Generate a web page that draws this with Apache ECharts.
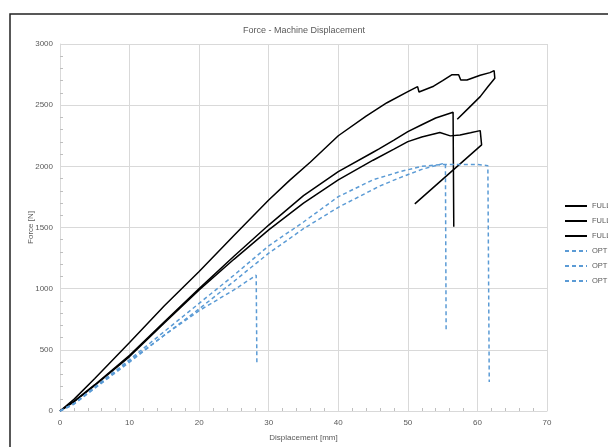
<!DOCTYPE html>
<html>
<head>
<meta charset="utf-8">
<script src="https://cdn.jsdelivr.net/npm/echarts@6/dist/echarts.min.js"></script>
<style>
  html, body { margin: 0; padding: 0; background: #fff; }
  #chart-wrapper { width: 608px; height: 447px; }
</style>
</head>
<body>
<div id="chart-wrapper"></div>
<script>
// [displacement mm, force N]
const full1 = [[0,0],[2,95],[5,265],[10,560],[15,860],[20,1140],[25,1435],[30,1725],[33,1885],[36,2035],[40,2250],[44,2410],[47,2520],[50,2610],[51.4,2652],[51.6,2608],[53.7,2655],[55,2700],[56.3,2748],[57.3,2748],[57.6,2705],[58.5,2706],[60.4,2745],[61.8,2766],[62.4,2783],[62.5,2720],[61.5,2650],[60.4,2570],[58.8,2480],[57.1,2385]];
const full2 = [[0,0],[2,80],[5,215],[10,455],[15,730],[20,1000],[25,1265],[30,1520],[35,1760],[40,1957],[45,2115],[45.8,2140],[46,2132],[48,2215],[50,2284],[52,2340],[54,2395],[56.5,2442],[56.6,1507]];
const full3 = [[0,0],[2,75],[5,210],[10,445],[15,720],[20,990],[25,1240],[30,1480],[35,1700],[40,1889],[45,2050],[48,2140],[50,2202],[52,2240],[54.6,2276],[56.1,2249],[57.5,2257],[59,2275],[60.4,2292],[60.6,2175],[51,1693]];
const opti1 = [[0,0],[2,60],[5,190],[10,410],[15,620],[20,820],[25,990],[28.2,1110],[28.3,376]];
const opti2 = [[0,0],[2,55],[5,185],[10,400],[15,620],[20,835],[25,1060],[30,1290],[35,1490],[40,1665],[46,1840],[48.9,1908],[52,1975],[55,2022],[55.4,2020],[55.5,662]];
const opti3 = [[0,0],[2,60],[5,195],[10,420],[15,650],[20,880],[25,1110],[30,1350],[35,1545],[40,1752],[45,1890],[48.9,1957],[52,2000],[55,2015],[58,2015],[60,2015],[61.5,2005],[61.7,237]];

const seriesNames = ["FULL 1", "FULL 2", "FULL 3", "OPTI 1", "OPTI 2", "OPTI 3"];
const seriesData = [full1, full2, full3, opti1, opti2, opti3];

const FONT = "Liberation Sans";
const GREY = "#595959";

const chartDom = document.getElementById("chart-wrapper");
const chart = echarts.init(chartDom);

const series = seriesData.map((d, i) => {
  const isFull = i < 3;
  const color = isFull ? "#000" : "#5b9bd5";
  return {
    name: seriesNames[i],
    type: "line",
    data: d,
    symbol: "none",
    showSymbol: false,
    lineStyle: { color: color, width: 1.5, type: isFull ? "solid" : [4, 3] },
    itemStyle: { color: color },
  };
});

const option = {
  animation: false,
  title: {
    text: "Force - Machine Displacement",
    left: "center",
    top: 21,
    textStyle: { fontFamily: FONT, fontSize: 9, fontWeight: "normal", color: GREY },
  },
  graphic: [{
    type: "rect",
    shape: { x: 10, y: 14, width: 640, height: 460 },
    style: { fill: "none", stroke: "#222", lineWidth: 1.5 },
    silent: true,
  }],
  legend: {
    orient: "vertical",
    left: 564,
    top: 202,
    padding: 0,
    itemWidth: 22,
    itemHeight: 8,
    itemGap: 7,
    itemStyle: { opacity: 0 },
    formatter: (name) => name.slice(0, 4),
    textStyle: { fontFamily: FONT, fontSize: 7.5, color: GREY },
    data: seriesNames,
  },
  grid: { left: 60, right: 61, top: 44, bottom: 36 },
  xAxis: {
    type: "value",
    min: 0, max: 70, interval: 10,
    name: "Displacement [mm]",
    nameLocation: "middle",
    nameGap: 23,
    nameMoveOverlap: false,
    nameTextStyle: { fontFamily: FONT, fontSize: 8, color: GREY },
    axisLine: { lineStyle: { color: "#d9d9d9" } },
    axisTick: { show: false, inside: true },
    minorTick: { show: true, splitNumber: 5, length: 3, lineStyle: { color: "#bfbfbf" } },
    axisLabel: { fontFamily: FONT, fontSize: 8, color: GREY, margin: 8 },
    splitLine: { show: true, lineStyle: { color: "#d9d9d9" } },
  },
  yAxis: {
    type: "value",
    min: 0, max: 3000, interval: 500,
    name: "Force [N]",
    nameLocation: "middle",
    nameGap: 25,
    nameMoveOverlap: false,
    nameTextStyle: { fontFamily: FONT, fontSize: 8, color: GREY },
    axisLine: { show: true, lineStyle: { color: "#d9d9d9" } },
    axisTick: { show: false, inside: true },
    minorTick: { show: true, splitNumber: 5, length: 3, lineStyle: { color: "#bfbfbf" } },
    axisLabel: { fontFamily: FONT, fontSize: 8, color: GREY, margin: 7, formatter: (v) => String(v) },
    splitLine: { show: true, lineStyle: { color: "#d9d9d9" } },
  },
  series: series,
};

chart.setOption(option);
</script>
</body>
</html>
